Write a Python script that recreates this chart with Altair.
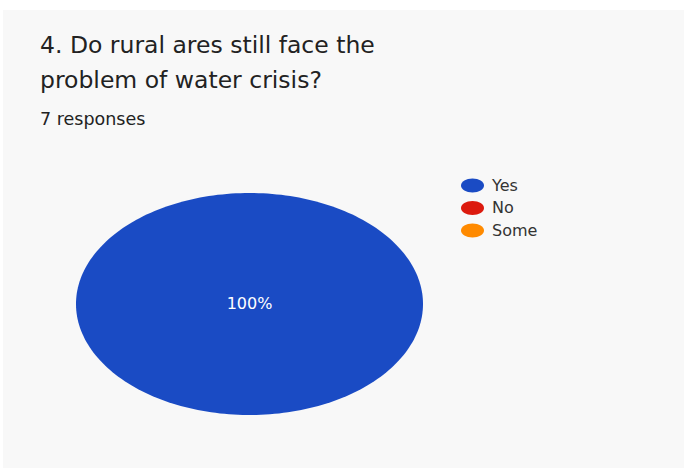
import altair as alt
import numpy as np
import pandas as pd

# ---- data ----
categories = ["Yes", "No", "Some"]
counts = [7, 0, 0]
colors = ["#1a4bc4", "#dc1a0e", "#ff8a00"]
title_lines = ["4. Do rural ares still face the", "problem of water crisis?"]
subtitle = "7 responses"

# ---- pie geometry derived from the counts (clockwise from 12 o'clock) ----
total = sum(counts)
rows, labels = [], []
cum = 0.0
for cat, c in zip(categories, counts):
    if c <= 0:
        continue
    frac = c / total
    a0, a1 = cum * 2 * np.pi, (cum + frac) * 2 * np.pi
    cum += frac
    n = max(int(240 * frac), 8)
    angs = np.linspace(a0, a1, n)
    order = 0
    if frac < 1:
        rows.append({"cat": cat, "x": 0.0, "y": 0.0, "o": order}); order += 1
    for a in angs:
        rows.append({"cat": cat, "x": float(np.sin(a)), "y": float(np.cos(a)), "o": order}); order += 1
    mid = (a0 + a1) / 2
    r = 0.0 if frac >= 1 else 0.6
    labels.append({"cat": cat, "x": r * np.sin(mid), "y": r * np.cos(mid),
                   "t": f"{round(frac * 100)}%"})
pie_df = pd.DataFrame(rows)
lab_df = pd.DataFrame(labels)

FONT = "DejaVu Sans"
xs = alt.Scale(domain=[-1, 1], range=[76, 423])
ys = alt.Scale(domain=[-1, 1], range=[415, 193])
color_scale = alt.Scale(domain=categories, range=colors)

bg = alt.Chart(pd.DataFrame({"a": [0]})).mark_rect(color="#f8f8f8").encode(
    x=alt.value(3), x2=alt.value(684), y=alt.value(10), y2=alt.value(468))

ellipse_path = "M -1 0 A 1 0.61 0 1 0 1 0 A 1 0.61 0 1 0 -1 0 Z"

pie = alt.Chart(pie_df).mark_line(filled=True, interpolate="linear-closed", strokeWidth=0.5).encode(
    x=alt.X("x:Q", scale=xs, axis=None),
    y=alt.Y("y:Q", scale=ys, axis=None),
    order="o:Q",
    color=alt.Color("cat:N", scale=color_scale, title=None,
                    legend=alt.Legend(orient="none", legendX=461, legendY=174,
                                      symbolType=ellipse_path, symbolSize=529,
                                      symbolStrokeWidth=0, labelFont=FONT,
                                      labelFontSize=16, labelColor="#333333",
                                      labelOffset=8, rowPadding=2.5)),
)

lab = alt.Chart(lab_df).mark_text(font=FONT, fontSize=16, color="white", baseline="middle").encode(
    x=alt.X("x:Q", scale=xs), y=alt.Y("y:Q", scale=ys), text="t:N")

t1 = alt.Chart(pd.DataFrame({"t": [title_lines[0]]})).mark_text(
    font=FONT, fontSize=23.5, color="#222222", align="left", baseline="alphabetic").encode(
    x=alt.value(40), y=alt.value(53), text="t:N")
t2 = alt.Chart(pd.DataFrame({"t": [title_lines[1]]})).mark_text(
    font=FONT, fontSize=23.5, color="#222222", align="left", baseline="alphabetic").encode(
    x=alt.value(40), y=alt.value(88), text="t:N")
t3 = alt.Chart(pd.DataFrame({"t": [subtitle]})).mark_text(
    font=FONT, fontSize=17.5, color="#222222", align="left", baseline="alphabetic").encode(
    x=alt.value(40), y=alt.value(125), text="t:N")

chart = alt.layer(bg, pie, lab, t1, t2, t3).properties(
    width=684, height=468, autosize=alt.AutoSizeParams(type="none"), padding=0,
    background="white"
).configure_view(stroke=None)

chart.save("out.html", embed_options={"renderer": "svg", "actions": False})
